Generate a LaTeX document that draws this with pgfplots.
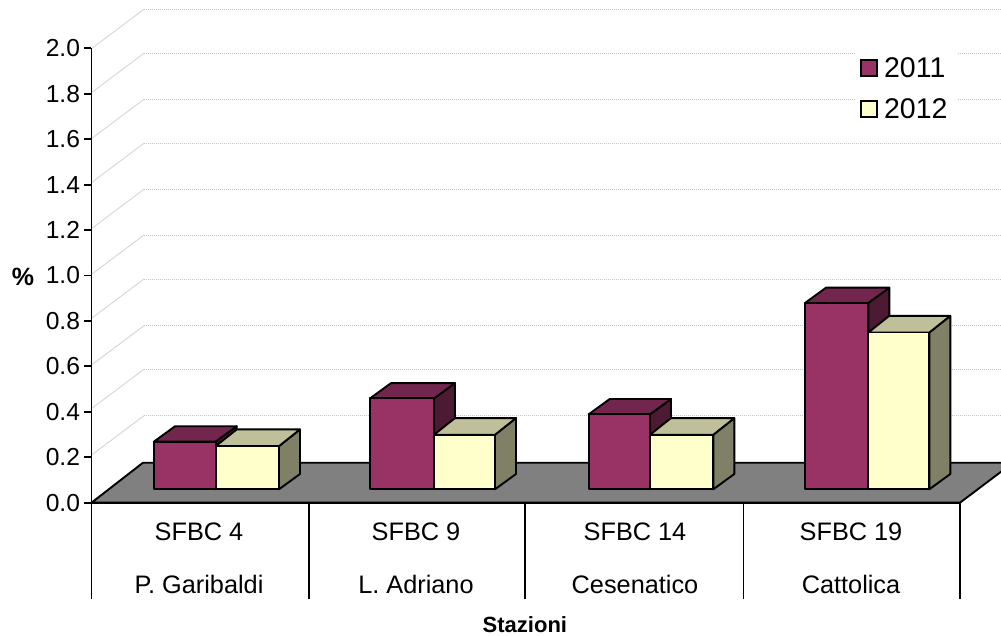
\documentclass[border=0pt]{standalone}
\usepackage{fontspec}
\setmainfont{Liberation Sans}
\usepackage{pgfplots}
\pgfplotsset{compat=1.18}
\definecolor{purF}{HTML}{993366}
\definecolor{purT}{HTML}{73264D}
\definecolor{purS}{HTML}{4D1A33}
\definecolor{yelF}{HTML}{FFFFCC}
\definecolor{yelT}{HTML}{BFBF99}
\definecolor{yelS}{HTML}{808066}
\definecolor{floorc}{HTML}{808080}
\definecolor{gridc}{HTML}{D4D4D4}
\definecolor{gridd}{HTML}{C2C2C2}
% y positions are percent values; x positions are along the chart's width
\newcommand{\base}{0.0590}% front foot of the bars above the front edge of the floor
\newcommand{\bdy}{0.0673}% depth rise of a bar foot
\newcommand{\threeDbar}[8]{% xl xr value toprise front top side (unused)
  \pgfmathsetmacro\yb{\base}\pgfmathsetmacro\yt{\base+#3}%
  \pgfmathsetmacro\ybb{\base+\bdy}\pgfmathsetmacro\ytb{\base+#3+#4}%
  \pgfmathsetmacro\xb{#2+21}\pgfmathsetmacro\xlb{#1+21}%
  \addplot[forget plot,fill=#7,draw=black,line width=1.9pt,line join=round] coordinates {(#2,\yb)(\xb,\ybb)(\xb,\ytb)(#2,\yt)} --cycle;
  \addplot[forget plot,fill=#6,draw=black,line width=1.9pt,line join=round] coordinates {(#1,\yt)(\xlb,\ytb)(\xb,\ytb)(#2,\yt)} --cycle;
  \addplot[forget plot,fill=#5,draw=black,line width=1.9pt,line join=round] coordinates {(#1,\yb)(#2,\yb)(#2,\yt)(#1,\yt)} --cycle;
}
\newcommand{\barA}[3]{\threeDbar{#1}{#2}{#3}{0.0673}{purF}{purT}{purS}{}}
\newcommand{\barB}[3]{\threeDbar{#1}{#2}{#3}{0.0735}{yelF}{yelT}{yelS}{}}
\newcommand{\gridl}[1]{%
  \pgfmathsetmacro\yf{(502.7-#1)/227.2-0.1715}\pgfmathsetmacro\ybk{(502.7-#1)/227.2}%
  \addplot[forget plot,gridc,line width=0.9pt] coordinates {(92,\yf)(144,\ybk)};
  \addplot[forget plot,gridd,line width=0.9pt,dash pattern=on 1pt off 1pt] coordinates {(144,\ybk)(1020,\ybk)};
}
\begin{document}
\begin{tikzpicture}
\useasboundingbox (-91.5pt,-133.3pt) rectangle (909.5pt,502.7pt);
\begin{axis}[
  scale only axis, width=868.5pt, height=454.4pt,
  xmin=91.5, xmax=960, ymin=0, ymax=2,
  clip=false,
  axis x line=bottom, axis y line=left,
  axis line style={-, line width=1.9pt, black},
  ytick={0,0.2,0.4,0.6,0.8,1.0,1.2,1.4,1.6,1.8,2.0},
  yticklabel style={/pgf/number format/fixed,/pgf/number format/fixed zerofill,/pgf/number format/precision=1,/pgf/number format/assume math mode=true,font=\fontsize{24.6}{28}\selectfont,xshift=-1pt},
  y tick style={black,line width=1.9pt},
  tick align=outside,
  major tick length=7pt,
  minor tick num=0,
  xtick={199,416,635,851},
  xticklabels={{SFBC 4\\P. Garibaldi},{SFBC 9\\L. Adriano},{SFBC 14\\Cesenatico},{SFBC 19\\Cattolica}},
  x tick style={draw=none},
  xticklabel style={align=center,font=\fontsize{25.3}{52.5}\selectfont,yshift=-10pt},
  xlabel={Stazioni},
  xlabel style={at={(rel axis cs:0.499,-0.269)},anchor=center,font=\fontsize{22}{26}\selectfont\bfseries},
  ylabel={\%},
  ylabel style={at={(rel axis cs:-0.0789,0.4965)},rotate=-90,anchor=center,font=\fontsize{25}{26}\selectfont\bfseries},
  legend style={at={(axis cs:856,1.997)},anchor=north west,draw=none,fill=white,font=\fontsize{28.5}{32}\selectfont,
    row sep=16pt,inner xsep=4pt,inner ysep=6pt,/tikz/every even column/.append style={column sep=6pt}},
  legend cell align=left,
  legend image code/.code={\draw[#1] (0pt,-8pt) rectangle (16pt,8pt);},
  legend style={nodes={inner xsep=6pt}},
]
% back wall grid lines
\gridl{9.3}\gridl{53.3}\gridl{99.3}\gridl{143.3}\gridl{189.3}\gridl{235}\gridl{279}\gridl{325.7}\gridl{369.3}\gridl{415.7}
% floor
\addplot[forget plot,fill=floorc,draw=black,line width=1.9pt] coordinates {(91.5,0)(960,0)(1013,0.176)(143,0.176)} --cycle;
% bars: left, right, value
\barA{154}{215.7}{0.21}\barB{215.7}{279}{0.19}
\barA{370}{434}{0.40}\barB{434}{495}{0.24}
\barA{588.7}{650}{0.33}\barB{650}{713.3}{0.24}
\barA{805}{868.3}{0.82}\barB{868.3}{929.3}{0.69}
% category separators
\addplot[forget plot,black,line width=1.9pt] coordinates {(91.5,0)(91.5,-0.425)};
\addplot[forget plot,black,line width=1.9pt] coordinates {(309.3,0)(309.3,-0.425)};
\addplot[forget plot,black,line width=1.9pt] coordinates {(525.3,0)(525.3,-0.425)};
\addplot[forget plot,black,line width=1.9pt] coordinates {(743.5,0)(743.5,-0.425)};
\addplot[forget plot,black,line width=1.9pt] coordinates {(960,0)(960,-0.425)};
\addlegendimage{fill=purF,draw=black,line width=1.9pt}
\addlegendentry{2011}
\addlegendimage{fill=yelF,draw=black,line width=1.9pt}
\addlegendentry{2012}
\end{axis}
\end{tikzpicture}
\end{document}
